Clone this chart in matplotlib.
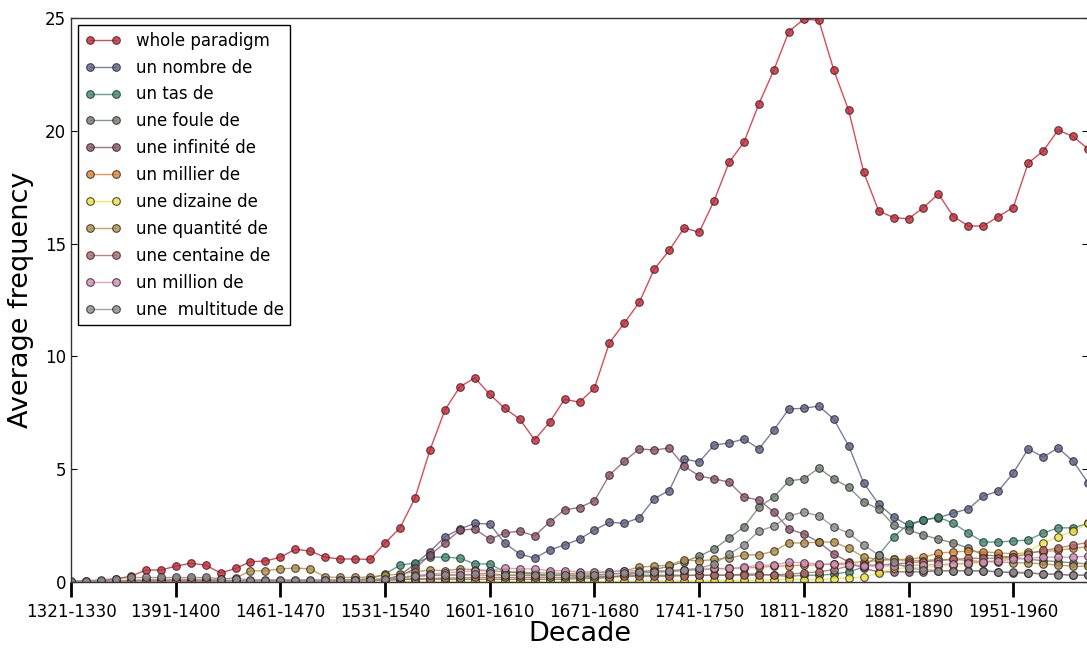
import matplotlib
matplotlib.use("Agg")
import matplotlib.pyplot as plt
import numpy as np

# decades 1321-1330 ... 2001-2010
starts = list(range(1321, 2002, 10))
decades = ["%d-%d" % (s, s + 9) for s in starts]

whole_paradigm = [0.0, 0.0, 0.05, 0.15, 0.25, 0.53, 0.53, 0.7, 0.83, 0.75,
                  0.4, 0.6, 0.9, 0.93, 1.1, 1.45, 1.37, 1.1, 1.02, 1.02,
                  1.0, 1.73, 2.4, 3.72, 5.85, 7.62, 8.65, 9.05, 8.32, 7.7,
                  7.22, 6.3, 7.08, 8.1, 7.97, 8.6, 10.6, 11.48, 12.4, 13.87,
                  14.7, 15.7, 15.5, 16.9, 18.6, 19.5, 21.2, 22.7, 24.4, 24.95,
                  24.9, 22.7, 20.9, 18.17, 16.45, 16.15, 16.1, 16.6, 17.2, 16.2,
                  15.78, 15.78, 16.2, 16.6, 18.57, 19.1, 20.03, 19.75, 19.2]
un_nombre = [0.02, 0.03, 0.03, 0.04, 0.05, 0.05, 0.05, 0.05, 0.05, 0.05,
             0.05, 0.05, 0.05, 0.05, 0.05, 0.05, 0.05, 0.05, 0.05, 0.05,
             0.06, 0.1, 0.3, 0.8, 1.35, 2.0, 2.35, 2.6, 2.57, 1.73,
             1.24, 1.06, 1.42, 1.64, 1.9, 2.3, 2.65, 2.6, 2.85, 3.7,
             4.05, 5.45, 5.32, 6.07, 6.16, 6.34, 5.9, 6.74, 7.67, 7.7,
             7.8, 7.22, 6.03, 4.39, 3.46, 2.88, 2.5, 2.75, 2.85, 3.06,
             3.24, 3.81, 4.03, 4.83, 5.9, 5.54, 5.94, 5.36, 4.4]
un_tas = [0.02, 0.02, 0.02, 0.02, 0.02, 0.02, 0.02, 0.02, 0.02, 0.02,
          0.02, 0.02, 0.02, 0.02, 0.02, 0.03, 0.03, 0.05, 0.08, 0.1,
          0.15, 0.35, 0.75, 0.84, 1.1, 1.1, 1.06, 0.8, 0.8, 0.45,
          0.4, 0.35, 0.3, 0.3, 0.25, 0.25, 0.25, 0.25, 0.3, 0.3,
          0.3, 0.3, 0.3, 0.3, 0.3, 0.35, 0.35, 0.3, 0.25, 0.3,
          0.3, 0.35, 0.45, 0.66, 1.2, 2.0, 2.57, 2.75, 2.88, 2.6,
          2.17, 1.77, 1.77, 1.82, 1.86, 2.17, 2.4, 2.4, 2.6]
une_foule = [0.02, 0.02, 0.02, 0.02, 0.02, 0.02, 0.02, 0.02, 0.02, 0.02,
             0.02, 0.02, 0.02, 0.02, 0.02, 0.02, 0.02, 0.03, 0.03, 0.05,
             0.05, 0.08, 0.1, 0.12, 0.12, 0.12, 0.12, 0.12, 0.12, 0.12,
             0.12, 0.12, 0.12, 0.12, 0.15, 0.15, 0.2, 0.3, 0.4, 0.55,
             0.7, 0.9, 1.15, 1.46, 1.95, 2.44, 3.32, 3.77, 4.48, 4.57,
             5.05, 4.57, 4.2, 3.55, 3.24, 2.53, 2.3, 2.08, 1.9, 1.73,
             1.5, 1.2, 1.15, 1.1, 1.0, 0.95, 0.9, 0.85, 0.8]
une_infinite = [0.02, 0.02, 0.02, 0.02, 0.02, 0.02, 0.02, 0.02, 0.02, 0.02,
                0.02, 0.02, 0.02, 0.02, 0.02, 0.02, 0.02, 0.03, 0.03, 0.04,
                0.05, 0.1, 0.25, 0.6, 1.2, 1.73, 2.3, 2.35, 1.9, 2.17,
                2.26, 2.04, 2.66, 3.2, 3.3, 3.6, 4.74, 5.36, 5.9, 5.85,
                5.94, 5.14, 4.7, 4.57, 4.43, 3.77, 3.63, 3.1, 2.35, 2.13,
                1.77, 1.24, 0.89, 0.6, 0.45, 0.45, 0.45, 0.45, 0.5, 0.5,
                0.5, 0.5, 0.45, 0.4, 0.4, 0.35, 0.35, 0.3, 0.3]
un_millier = [0.0, 0.0, 0.0, 0.01, 0.01, 0.02, 0.02, 0.02, 0.02, 0.02,
              0.02, 0.02, 0.03, 0.03, 0.03, 0.04, 0.05, 0.05, 0.06, 0.08,
              0.1, 0.15, 0.2, 0.25, 0.3, 0.3, 0.32, 0.3, 0.3, 0.3,
              0.3, 0.28, 0.28, 0.3, 0.3, 0.32, 0.35, 0.38, 0.4, 0.42,
              0.45, 0.5, 0.55, 0.58, 0.6, 0.62, 0.65, 0.7, 0.72, 0.75,
              0.75, 0.8, 0.85, 0.9, 0.95, 1.0, 1.0, 1.1, 1.28, 1.33,
              1.37, 1.33, 1.3, 1.24, 1.3, 1.35, 1.4, 1.5, 1.55]
une_dizaine = [0.0, 0.0, 0.0, 0.0, 0.0, 0.0, 0.0, 0.0, 0.0, 0.0,
               0.0, 0.0, 0.0, 0.0, 0.0, 0.0, 0.0, 0.0, 0.0, 0.0,
               0.01, 0.01, 0.02, 0.02, 0.02, 0.03, 0.03, 0.03, 0.03, 0.03,
               0.03, 0.03, 0.03, 0.03, 0.03, 0.03, 0.04, 0.04, 0.04, 0.05,
               0.05, 0.05, 0.05, 0.06, 0.06, 0.07, 0.08, 0.1, 0.12, 0.1,
               0.1, 0.15, 0.18, 0.22, 0.4, 0.6, 0.62, 0.65, 0.7, 0.75,
               0.8, 0.85, 0.95, 1.1, 1.35, 1.73, 2.0, 2.25, 2.6]
une_quantite = [0.0, 0.0, 0.02, 0.05, 0.08, 0.1, 0.12, 0.12, 0.12, 0.12,
                0.12, 0.18, 0.49, 0.5, 0.58, 0.62, 0.58, 0.22, 0.2, 0.2,
                0.22, 0.3, 0.35, 0.45, 0.53, 0.5, 0.58, 0.55, 0.5, 0.45,
                0.45, 0.4, 0.4, 0.38, 0.38, 0.4, 0.45, 0.5, 0.66, 0.7,
                0.75, 0.98, 0.93, 1.0, 1.06, 1.2, 1.2, 1.37, 1.73, 1.73,
                1.77, 1.77, 1.5, 1.1, 1.0, 1.0, 0.95, 0.95, 1.0, 1.0,
                0.95, 0.9, 0.9, 0.85, 0.85, 0.8, 0.75, 0.7, 0.7]
une_centaine = [0.0, 0.0, 0.0, 0.0, 0.01, 0.01, 0.01, 0.01, 0.02, 0.02,
                0.02, 0.02, 0.02, 0.03, 0.03, 0.03, 0.04, 0.05, 0.05, 0.06,
                0.08, 0.1, 0.12, 0.15, 0.15, 0.18, 0.18, 0.2, 0.2, 0.2,
                0.2, 0.2, 0.2, 0.2, 0.2, 0.2, 0.22, 0.25, 0.25, 0.25,
                0.25, 0.28, 0.3, 0.3, 0.3, 0.3, 0.3, 0.32, 0.35, 0.4,
                0.45, 0.55, 0.7, 0.75, 0.75, 0.8, 0.85, 0.9, 0.95, 1.0,
                1.05, 1.05, 1.05, 1.1, 1.25, 1.4, 1.5, 1.64, 1.75]
un_million = [0.0, 0.0, 0.0, 0.0, 0.01, 0.01, 0.01, 0.01, 0.01, 0.01,
              0.01, 0.02, 0.02, 0.02, 0.03, 0.03, 0.04, 0.05, 0.06, 0.07,
              0.08, 0.1, 0.2, 0.3, 0.35, 0.4, 0.45, 0.5, 0.5, 0.62,
              0.58, 0.58, 0.5, 0.5, 0.45, 0.45, 0.45, 0.5, 0.5, 0.5,
              0.5, 0.55, 0.55, 0.6, 0.6, 0.65, 0.75, 0.75, 0.89, 0.85,
              0.8, 0.8, 0.75, 0.7, 0.7, 0.72, 0.75, 0.75, 0.78, 0.8,
              0.85, 0.9, 0.95, 1.0, 1.05, 1.1, 1.1, 1.1, 1.15]
une_multitude = [0.05, 0.05, 0.1, 0.15, 0.2, 0.2, 0.2, 0.2, 0.2, 0.2,
                 0.15, 0.15, 0.1, 0.1, 0.1, 0.1, 0.1, 0.1, 0.1, 0.1,
                 0.1, 0.15, 0.2, 0.25, 0.3, 0.3, 0.32, 0.35, 0.4, 0.3,
                 0.3, 0.3, 0.3, 0.3, 0.3, 0.3, 0.35, 0.4, 0.45, 0.45,
                 0.5, 0.55, 0.6, 0.8, 1.24, 1.64, 2.26, 2.48, 2.93, 3.1,
                 2.93, 2.44, 2.17, 1.64, 1.2, 0.9, 0.6, 0.55, 0.5, 0.5,
                 0.5, 0.48, 0.45, 0.44, 0.42, 0.35, 0.33, 0.3, 0.3]

labels = ["whole paradigm", "un nombre de", "un tas de", "une foule de",
          "une infinité de", "un millier de", "une dizaine de",
          "une quantité de", "une centaine de", "un million de",
          "une  multitude de"]
series = [whole_paradigm, un_nombre, un_tas, une_foule, une_infinite,
          un_millier, une_dizaine, une_quantite, une_centaine, un_million,
          une_multitude]
colors = ["#cf1f2e", "#5a5e88", "#3a8c6e", "#6b7d6e", "#8f4f68",
          "#e2812a", "#f2e336", "#b48c3c", "#b5655f", "#d68cba", "#8c8c8c"]

fig = plt.figure(figsize=(10.87, 6.48), dpi=100)
ax = fig.add_axes([71 / 1087, 66 / 648, 1017 / 1087, 564 / 648])

x = np.arange(len(decades))
for vals, lab, col in zip(series, labels, colors):
    ax.plot(x, vals, "-o", color=col, lw=1.0, alpha=0.8, ms=5.5,
            mfc=col, mec=(0.15, 0.15, 0.15, 0.6), mew=0.8, label=lab)

ax.set_xlim(0, 68)
ax.set_ylim(0, 25)
ax.set_yticks([0, 5, 10, 15, 20, 25])
ax.set_xticks(x[::7])
ax.set_xticklabels(decades[::7])
ax.tick_params(axis="x", direction="out", length=11, width=2, labelsize=12,
               top=False, pad=4)
ax.tick_params(axis="y", direction="in", length=4, width=0.8, labelsize=12,
               right=True)
for s in ax.spines.values():
    s.set_color("#333333")
    s.set_linewidth(1.0)

ax.set_xlabel("Decade", fontsize=19.5, labelpad=0)
ax.set_ylabel("Average frequency", fontsize=19.5, labelpad=8)

leg = ax.legend(loc="upper left", fontsize=12, numpoints=2, fancybox=False,
                framealpha=1, edgecolor="black", handlelength=2.2,
                handletextpad=0.85, borderaxespad=0.42, labelspacing=0.53)
leg.get_frame().set_linewidth(1.0)

fig.savefig("out.png", dpi=100)
